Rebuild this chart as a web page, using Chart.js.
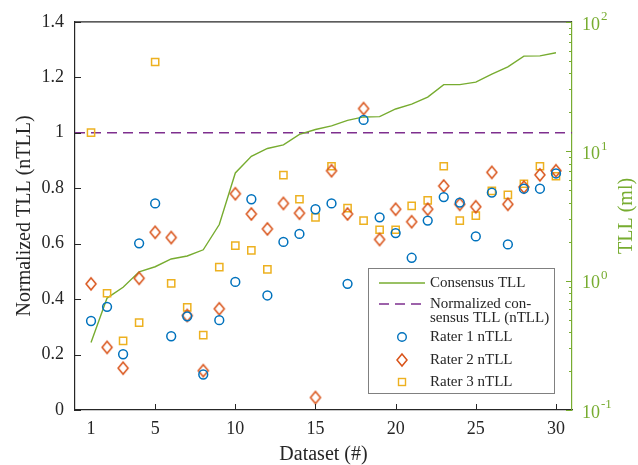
<!DOCTYPE html>
<html><head><meta charset="utf-8">
<script src="https://cdn.jsdelivr.net/npm/chart.js@4.4.1/dist/chart.umd.min.js"></script>
<style>html,body{margin:0;padding:0;background:#fff;}#wrap{width:638px;height:465px;position:relative;}</style>
</head><body><div id="wrap"><canvas id="c" width="638" height="465"></canvas></div>
<script>
// ---- data ----
const datasetIds = [1,2,3,4,5,6,7,8,9,10,11,12,13,14,15,16,17,18,19,20,21,22,23,24,25,26,27,28,29,30];
const consensusTLL = [0.332,0.733,0.889,1.17,1.28,1.47,1.55,1.73,2.71,6.79,9.12,10.5,11.2,13.5,14.7,15.7,17.3,18.4,18.5,21.2,23.1,26.2,32.7,32.7,34.2,39.4,44.8,54.3,54.5,57.7];
const rater1 = [0.321,0.372,0.201,0.601,0.745,0.266,0.338,0.128,0.324,0.462,0.760,0.413,0.606,0.635,0.724,0.745,0.455,1.046,0.695,0.638,0.549,0.683,0.768,0.748,0.626,0.784,0.597,0.798,0.798,0.853];
const rater2 = [0.455,0.226,0.151,0.475,0.641,0.622,0.341,0.142,0.365,0.780,0.707,0.653,0.745,0.710,0.045,0.863,0.707,1.087,0.615,0.724,0.679,0.724,0.808,0.742,0.733,0.857,0.742,0.804,0.848,0.863];
const rater3 = [1.000,0.421,0.249,0.315,1.255,0.457,0.370,0.270,0.515,0.593,0.576,0.507,0.847,0.760,0.695,0.879,0.728,0.683,0.650,0.650,0.736,0.756,0.879,0.683,0.701,0.790,0.776,0.816,0.879,0.843];
const nTLLRef = 1;
const xLimits = [0, 31];
const xTickVals = [1,5,10,15,20,25,30];
const xTickLabels = ['1','5','10','15','20','25','30'];
const xTickMarks = [5,10,15,20,25,30];
const yTickVals = [0,0.2,0.4,0.6,0.8,1,1.2,1.4];
const yTickLabels = ['0','0.2','0.4','0.6','0.8','1','1.2','1.4'];
const y2Limits = [0.1, 100];
const y2TickVals = [0.1,1,10,100];
const y2TickExps = ['-1','0','1','2'];
const seriesLabels = ['Consensus TLL','Normalized consensus TLL (nTLL)','Rater 1 nTLL','Rater 2 nTLL','Rater 3 nTLL'];
const legendLines = [['Consensus TLL'],['Normalized con-','sensus TLL (nTLL)'],['Rater 1 nTLL'],['Rater 2 nTLL'],['Rater 3 nTLL']];

// ---- style ----
const SERIF = "'Liberation Serif','Times New Roman',serif";
const TXT = '#262626';
const GREEN = '#77AC30', PURPLE = '#7E2F8E', BLUE = '#0072BD', ORANGE = '#D95319', YELLOW = '#EDB120';

function makeDiamond(w, h, color, lw) {
  const c = document.createElement('canvas');
  c.width = w + 4; c.height = h + 4;
  const g = c.getContext('2d');
  g.strokeStyle = color; g.lineWidth = lw;
  const cx = c.width / 2, cy = c.height / 2;
  g.beginPath(); g.moveTo(cx, cy - h/2); g.lineTo(cx + w/2, cy); g.lineTo(cx, cy + h/2); g.lineTo(cx - w/2, cy); g.closePath(); g.stroke();
  return c;
}
const diamondImg = makeDiamond(10, 12, ORANGE, 1.5);

const pts = arr => datasetIds.map((x, i) => ({x, y: arr[i]}));

const decor = {
  id: 'decor',
  afterDraw(chart) {
    const ctx = chart.ctx, ca = chart.chartArea;
    const sx = chart.scales.x, sy = chart.scales.y, s2 = chart.scales.y2;
    ctx.save();
    // top box line
    ctx.strokeStyle = TXT; ctx.lineWidth = 1.2;
    ctx.beginPath(); ctx.moveTo(ca.left, ca.top); ctx.lineTo(ca.right, ca.top); ctx.stroke();
    // inward x ticks
    ctx.lineWidth = 1;
    ctx.beginPath();
    xTickMarks.forEach(v => { const p = Math.round(sx.getPixelForValue(v)) + 0.5; ctx.moveTo(p, ca.bottom); ctx.lineTo(p, ca.bottom - 6); });
    yTickVals.forEach(v => { const p = Math.round(sy.getPixelForValue(v)) + 0.5; ctx.moveTo(ca.left, p); ctx.lineTo(ca.left + 6, p); });
    ctx.stroke();
    // right log axis ticks
    ctx.strokeStyle = GREEN; ctx.beginPath();
    for (let d = -1; d <= 1; d++) {
      for (let m = 1; m <= 9; m++) {
        const v = m * Math.pow(10, d);
        const p = Math.round(s2.getPixelForValue(v)) + 0.5;
        const len = m === 1 ? 6 : 3;
        ctx.moveTo(ca.right, p); ctx.lineTo(ca.right - len, p);
      }
    }
    { const p = Math.round(s2.getPixelForValue(100)) + 0.5; ctx.moveTo(ca.right, p); ctx.lineTo(ca.right - 6, p); }
    ctx.stroke();
    // right labels with superscripts
    ctx.fillStyle = GREEN; ctx.textBaseline = 'middle'; ctx.textAlign = 'left';
    y2TickVals.forEach((v, i) => {
      const p = s2.getPixelForValue(v) + 3;
      ctx.font = '18px ' + SERIF;
      ctx.fillText('10', ca.right + 10, p);
      const w = ctx.measureText('10').width;
      ctx.font = '13px ' + SERIF;
      ctx.fillText(y2TickExps[i], ca.right + 10 + w + 1, p - 8);
    });
    // right title
    ctx.save();
    ctx.translate(627, (ca.top + ca.bottom) / 2);
    ctx.rotate(-Math.PI / 2);
    ctx.font = '20px ' + SERIF; ctx.textAlign = 'center'; ctx.textBaseline = 'middle';
    ctx.fillText('TLL (ml)', 0, 0);
    ctx.restore();
    // legend
    const bx = 368.5, by = 268.5, bw = 186, bh = 125;
    ctx.fillStyle = '#fff'; ctx.fillRect(bx, by, bw, bh);
    ctx.strokeStyle = '#808080'; ctx.lineWidth = 1; ctx.strokeRect(bx, by, bw, bh);
    const rowsY = [283, 304, 337, 360, 382];
    const lx0 = 379, lx1 = 425, mx = 402, tx = 430;
    ctx.font = '15px ' + SERIF; ctx.fillStyle = TXT; ctx.textAlign = 'left'; ctx.textBaseline = 'middle';
    legendLines.forEach((lines, i) => {
      const y = rowsY[i];
      lines.forEach((t, k) => ctx.fillText(t, tx, y + k * 14));
    });
    ctx.lineWidth = 1.4;
    ctx.strokeStyle = GREEN; ctx.beginPath(); ctx.moveTo(lx0, rowsY[0]); ctx.lineTo(lx1, rowsY[0]); ctx.stroke();
    ctx.strokeStyle = PURPLE; ctx.setLineDash([10, 6]); ctx.beginPath(); ctx.moveTo(lx0, rowsY[1]); ctx.lineTo(lx1, rowsY[1]); ctx.stroke(); ctx.setLineDash([]);
    ctx.strokeStyle = BLUE; ctx.beginPath(); ctx.arc(mx, rowsY[2], 4.3, 0, Math.PI * 2); ctx.stroke();
    ctx.drawImage(diamondImg, mx - diamondImg.width / 2, rowsY[3] - diamondImg.height / 2);
    ctx.strokeStyle = YELLOW; ctx.strokeRect(mx - 3.5, rowsY[4] - 3.5, 7, 7);
    ctx.restore();
  }
};

new Chart(document.getElementById('c'), {
  type: 'scatter',
  data: {
    datasets: [
      { label: seriesLabels[2], data: pts(rater1), yAxisID: 'y', pointStyle: 'circle', pointRadius: 4.4, borderColor: BLUE, backgroundColor: 'rgba(0,0,0,0)', borderWidth: 1.5, order: 0 },
      { label: seriesLabels[3], data: pts(rater2), yAxisID: 'y', pointStyle: diamondImg, pointRadius: 6, borderColor: ORANGE, backgroundColor: 'rgba(0,0,0,0)', order: 0 },
      { label: seriesLabels[4], data: pts(rater3), yAxisID: 'y', pointStyle: 'rect', pointRadius: 5.1, borderColor: YELLOW, backgroundColor: 'rgba(0,0,0,0)', borderWidth: 1.5, order: 0 },
      { type: 'line', label: seriesLabels[0], data: pts(consensusTLL), yAxisID: 'y2', borderColor: GREEN, borderWidth: 1.4, pointRadius: 0, fill: false, tension: 0, order: 1 },
      { type: 'line', label: seriesLabels[1], data: xLimits.map(x => ({x, y: nTLLRef})), yAxisID: 'y', borderColor: PURPLE, borderWidth: 1.4, borderDash: [10, 6], pointRadius: 0, fill: false, order: 1 }
    ]
  },
  options: {
    responsive: false, animation: false, devicePixelRatio: 1,
    layout: { padding: { top: 17, left: 0, right: 0, bottom: 0 } },
    plugins: { legend: { display: false }, tooltip: { enabled: false } },
    scales: {
      x: {
        type: 'linear', position: 'bottom', min: xLimits[0], max: xLimits[1],
        afterBuildTicks: s => { s.ticks = xTickVals.map(v => ({ value: v })); },
        afterFit: s => { s.height = 55; },
        ticks: { autoSkip: false, maxRotation: 0, padding: 8, color: TXT, font: { family: SERIF, size: 18 },
          callback: v => { const i = xTickVals.indexOf(v); return i >= 0 ? xTickLabels[i] : ''; } },
        grid: { drawOnChartArea: false, drawTicks: false },
        border: { display: true, color: TXT, width: 1.2 },
        title: { display: true, text: 'Dataset (#)', color: TXT, font: { family: SERIF, size: 20, lineHeight: 1.0 }, padding: { top: 0, bottom: 0 } }
      },
      y: {
        type: 'linear', position: 'left', min: 0, max: 1.4,
        afterBuildTicks: s => { s.ticks = yTickVals.map(v => ({ value: v })); },
        afterFit: s => { s.width = 75; },
        ticks: { autoSkip: false, padding: 11, color: TXT, font: { family: SERIF, size: 18 },
          callback: v => { const i = yTickVals.findIndex(t => Math.abs(t - v) < 1e-9); return i >= 0 ? yTickLabels[i] : ''; } },
        grid: { drawOnChartArea: false, drawTicks: false },
        border: { display: true, color: TXT, width: 1.2 },
        title: { display: true, text: 'Normalized TLL (nTLL)', color: TXT, font: { family: SERIF, size: 20 }, padding: { top: 13, bottom: 0 } }
      },
      y2: {
        type: 'logarithmic', position: 'right', min: y2Limits[0], max: y2Limits[1],
        afterFit: s => { s.width = 66; },
        ticks: { display: false },
        grid: { drawOnChartArea: false, drawTicks: false },
        border: { display: true, color: GREEN, width: 1.2 }
      }
    }
  },
  plugins: [decor]
});
</script>
</body></html>
